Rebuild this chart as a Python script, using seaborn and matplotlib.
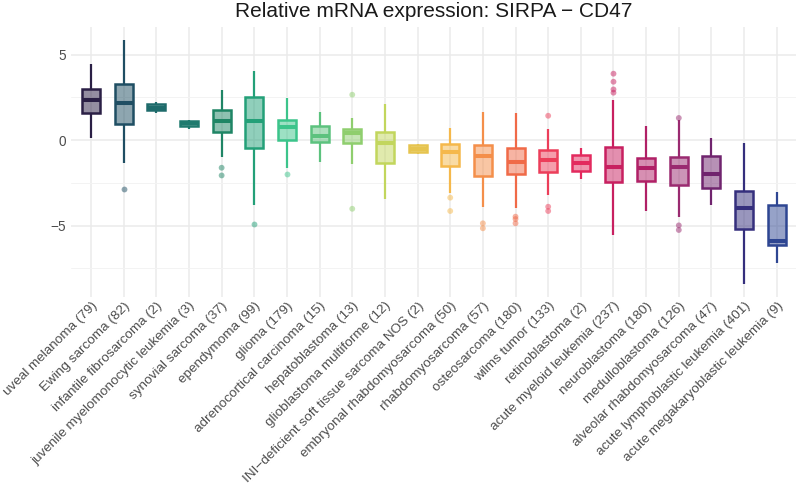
import numpy as np
import pandas as pd
import matplotlib
matplotlib.use("Agg")
import matplotlib.pyplot as plt
import matplotlib.transforms as mtransforms
import seaborn as sns
from matplotlib.colors import to_rgba
from matplotlib.ticker import MultipleLocator

categories = [
    "uveal melanoma (79)", "Ewing sarcoma (82)", "infantile fibrosarcoma (2)",
    "juvenile myelomonocytic leukemia (3)", "synovial sarcoma (37)", "ependymoma (99)",
    "glioma (179)", "adrenocortical carcinoma (15)", "hepatoblastoma (13)",
    "glioblastoma multiforme (12)", "INI\u2212deficient soft tissue sarcoma NOS (2)",
    "embryonal rhabdomyosarcoma (50)", "rhabdomyosarcoma (57)", "osteosarcoma (180)",
    "wilms tumor (133)", "retinoblastoma (2)", "acute myeloid leukemia (237)",
    "neuroblastoma (180)", "medulloblastoma (126)", "alveolar rhabdomyosarcoma (47)",
    "acute lymphoblastic leukemia (401)", "acute megakaryoblastic leukemia (9)",
]
whisker_low = [0.13, -1.36, 1.60, 0.63, -1.01, -3.78, -1.62, -1.27, -1.38, -3.45, -0.80,
               -3.12, -3.92, -3.98, -3.20, -2.28, -5.54, -4.17, -4.48, -3.78, -8.40, -7.21]
q1 = [1.58, 0.94, 1.75, 0.82, 0.47, -0.45, 0.00, -0.12, -0.19, -1.33, -0.70,
      -1.50, -2.10, -1.99, -1.89, -1.83, -2.46, -2.40, -2.61, -2.79, -5.22, -6.14]
median = [2.34, 2.18, 1.87, 0.98, 1.11, 1.13, 0.74, 0.23, 0.41, -0.16, -0.50,
          -0.72, -0.94, -1.30, -1.19, -1.36, -1.58, -1.62, -1.58, -1.99, -4.00, -5.92]
q3 = [3.00, 3.30, 2.12, 1.13, 1.73, 2.53, 1.15, 0.82, 0.66, 0.47, -0.31,
      -0.23, -0.27, -0.45, -0.60, -0.90, -0.39, -1.05, -1.01, -0.95, -2.96, -3.78]
whisker_high = [4.44, 5.85, 2.24, 1.17, 2.94, 4.04, 2.44, 1.62, 1.30, 2.12, -0.22,
                0.70, 1.62, 1.56, 0.63, -0.45, 2.32, 0.80, 1.15, 0.13, -0.19, -3.06]

outlier_category = [
    "Ewing sarcoma (82)",
    "synovial sarcoma (37)", "synovial sarcoma (37)",
    "ependymoma (99)",
    "glioma (179)",
    "hepatoblastoma (13)", "hepatoblastoma (13)",
    "embryonal rhabdomyosarcoma (50)", "embryonal rhabdomyosarcoma (50)",
    "rhabdomyosarcoma (57)", "rhabdomyosarcoma (57)",
    "osteosarcoma (180)", "osteosarcoma (180)", "osteosarcoma (180)",
    "wilms tumor (133)", "wilms tumor (133)", "wilms tumor (133)",
    "acute myeloid leukemia (237)", "acute myeloid leukemia (237)",
    "acute myeloid leukemia (237)", "acute myeloid leukemia (237)",
    "medulloblastoma (126)", "medulloblastoma (126)", "medulloblastoma (126)",
]
outlier_value = [
    -2.87,
    -1.62, -2.07,
    -4.93,
    -1.97,
    2.65, -4.02,
    -3.37, -4.15,
    -4.87, -5.16,
    -4.48, -4.62, -4.87,
    1.42, -3.90, -4.15,
    3.88, 3.41, 2.96, 2.77,
    1.29, -4.99, -5.26,
]

box_colors = [
    "#2a1f45", "#1f4e63", "#1e6b6b", "#1f7a6e", "#1f8565", "#23a078",
    "#3cc48b", "#5cc27e", "#8fce6e", "#c2d65d", "#e6c44f", "#f5b84b",
    "#f48f4a", "#f06a48", "#ec3e5a", "#e32a5e", "#c82060", "#b02066",
    "#9a2a70", "#70246e", "#352f7d", "#2e4692",
]

title = "Relative mRNA expression: SIRPA \u2212 CD47"

sns.set_theme(style="whitegrid")
plt.rcParams["font.family"] = ["Liberation Sans", "DejaVu Sans"]

rows = []
for c, lo, a, m, b, hi in zip(categories, whisker_low, q1, median, q3, whisker_high):
    for v in (lo, a, m, b, hi):
        rows.append((c, v))
df = pd.DataFrame(rows, columns=["category", "value"])
out_df = pd.DataFrame({"category": outlier_category, "value": outlier_value})

fig = plt.figure(figsize=(7.97, 4.92), dpi=100)
ax = fig.add_axes([0.0896, 0.3963, 0.9096, 0.5488])
ax.set_axisbelow(True)

for c, col in zip(categories, box_colors):
    sub = df[df["category"] == c]
    sns.boxplot(
        data=sub, x="category", y="value", order=categories, whis=np.inf,
        width=0.55, showcaps=False, fliersize=0, ax=ax, color=col,
        boxprops=dict(facecolor=to_rgba(col, 0.5), edgecolor=col, linewidth=1.8),
        medianprops=dict(color=col, linewidth=2.9),
        whiskerprops=dict(color=col, linewidth=1.6),
    )

pal = dict(zip(categories, box_colors))
sns.stripplot(
    data=out_df, x="category", y="value", order=categories, hue="category",
    hue_order=categories, palette=pal, jitter=False, size=4.2, alpha=0.5,
    linewidth=0, legend=False, ax=ax,
)

ax.set_xlim(-0.6, len(categories) - 0.4)
ax.set_ylim(-9.18, 6.61)
ax.yaxis.set_major_locator(MultipleLocator(5))
ax.yaxis.set_minor_locator(MultipleLocator(2.5))
ax.grid(which="major", color="#ebebeb", linewidth=1.1)
ax.grid(which="minor", axis="y", color="#f3f3f3", linewidth=0.7)
ax.grid(which="major", axis="x", color="#ebebeb", linewidth=1.1)
for s in ax.spines.values():
    s.set_visible(False)
ax.set_xlabel("")
ax.set_ylabel("")
ax.set_xticks(range(len(categories)))
ax.set_xticklabels(categories, rotation=45, ha="right", rotation_mode="anchor",
                   fontsize=9.7, color="#4d4d4d")
shift = mtransforms.ScaledTranslation(3 / 100, 0, fig.dpi_scale_trans)
for lab in ax.get_xticklabels():
    lab.set_transform(lab.get_transform() + shift)
ax.tick_params(axis="x", length=0, pad=2)
ax.tick_params(axis="y", length=0, pad=4, labelsize=9.8, labelcolor="#4d4d4d")
ax.tick_params(which="minor", length=0)

fig.text(0.5444, 0.977, title, ha="center", va="center", fontsize=15, color="#1a1a1a")

fig.savefig("out.png", dpi=100, facecolor="white")
